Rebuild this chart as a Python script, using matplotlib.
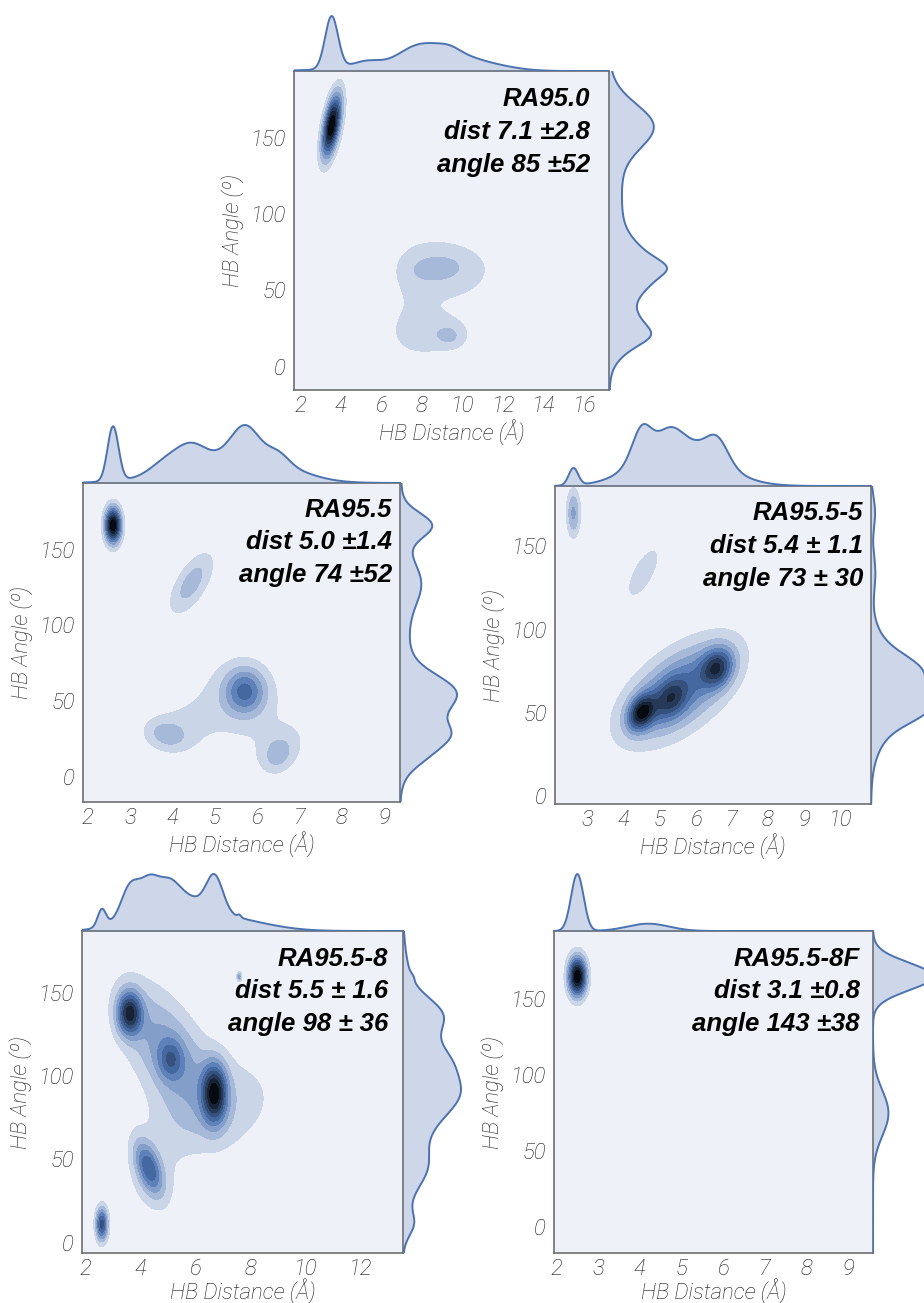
import colorsys
import numpy as np
import matplotlib
matplotlib.use("Agg")
import matplotlib.pyplot as plt
from matplotlib.colors import LinearSegmentedColormap, to_rgb

# ---------------- data ----------------
# each density component: (dist centre, angle centre, dist sd, angle sd, correlation, weight)
ra95_0_components = [
    (3.55, 158, 0.32, 14, 0.55, 0.12),
    (9.0, 63, 1.6, 14, 0.0, 0.115),
    (8.4, 22, 1.4, 11, 0.0, 0.075),
    (8.7, 65, 0.8, 5, 0.1, 0.012),
    (9.4, 20, 0.45, 5, 0.0, 0.008),
    (7.5, 42, 0.7, 22, 0.0, 0.025),
    (6.0, 110, 2.5, 35, 0.0, 0.05),
    (8.5, 90, 1.5, 45, 0.0, 0.05),
    (5.2, 150, 0.7, 25, 0.0, 0.03),
    (11.5, 60, 1.2, 30, 0.0, 0.03),
]
ra95_5_components = [
    (2.6, 166, 0.13, 8, 0.0, 0.07),
    (5.72, 57, 0.33, 10.5, 0.0, 0.10),
    (4.45, 128, 0.33, 13, 0.65, 0.05),
    (3.85, 28, 0.35, 7, -0.2, 0.03),
    (6.5, 15, 0.25, 8, 0.2, 0.025),
    (4.2, 32, 0.6, 13, 0.1, 0.05),
    (6.6, 22, 0.7, 15, 0.3, 0.06),
    (5.5, 50, 0.8, 18, 0.0, 0.12),
    (5.0, 115, 1.3, 40, 0.0, 0.12),
]
ra95_5_5_components = [
    (4.5, 50, 0.25, 7, 0.3, 0.08),
    (5.3, 58, 0.3, 8, 0.3, 0.05),
    (6.6, 77, 0.3, 8, 0.2, 0.09),
    (5.5, 64, 1.0, 19, 0.6, 0.4),
    (5.6, 62, 1.1, 22, 0.5, 0.25),
    (2.62, 170, 0.13, 10, 0.0, 0.03),
    (4.55, 134, 0.35, 12, 0.7, 0.038),
]
ra95_5_8_components = [
    (6.7, 90, 0.3, 12, 0.0, 0.10),
    (3.6, 138, 0.3, 9, 0.0, 0.07),
    (5.1, 110, 0.3, 8, 0.0, 0.025),
    (5.0, 115, 1.2, 28, -0.6, 0.35),
    (7.5, 88, 1.3, 20, 0.0, 0.12),
    (5.5, 70, 1.2, 15, 0.0, 0.06),
    (4.3, 45, 0.35, 11, -0.5, 0.06),
    (4.5, 38, 0.8, 18, 0.0, 0.06),
    (2.6, 11, 0.15, 7, 0.0, 0.025),
    (7.6, 160, 0.06, 2, 0.0, 0.0015),
]
ra95_5_8f_components = [
    (2.5, 165, 0.15, 9, 0.0, 0.7),
    (4.2, 75, 0.5, 15, 0.0, 0.3),
]

panel_names = ["RA95.0", "RA95.5", "RA95.5-5", "RA95.5-8", "RA95.5-8F"]
dist_stats = ["dist 7.1 \u00b12.8", "dist 5.0 \u00b11.4", "dist 5.4 \u00b1 1.1",
              "dist 5.5 \u00b1 1.6", "dist 3.1 \u00b10.8"]
angle_stats = ["angle 85 \u00b152", "angle 74 \u00b152", "angle 73 \u00b1 30",
               "angle 98 \u00b1 36", "angle 143 \u00b138"]
dist_ticks = [[2, 4, 6, 8, 10, 12, 14, 16], [2, 3, 4, 5, 6, 7, 8, 9],
              [3, 4, 5, 6, 7, 8, 9, 10], [2, 4, 6, 8, 10, 12], [2, 3, 4, 5, 6, 7, 8, 9]]
angle_ticks = [0, 50, 100, 150]
dist_limits = [(1.7, 17.2), (1.89, 9.38), (2.11, 10.85), (1.88, 13.55), (1.94, 9.6)]
angle_limits = [(-15.3, 193.7), (-16.2, 193.8), (-4.8, 186.2), (-6.3, 187.5), (-17.2, 195)]
all_components = [ra95_0_components, ra95_5_components, ra95_5_5_components,
                  ra95_5_8_components, ra95_5_8f_components]

# ---------------- layout (pixels) ----------------
W, H = 924, 1303
boxes = [(294, 71, 609, 390), (83, 483, 400, 802), (555, 486, 871, 804),
         (82, 931, 403, 1253), (554, 931, 873, 1253)]
text_inset = [19, 8, 8, 15, 13]
line_baselines = [(35, 68, 101), (34, 66, 99), (34, 67, 100), (35, 67, 100), (35, 67, 100)]
xlabel_offset = [42, 42, 42, 38, 38]
top_peak_px = [55, 58, 62, 57, 57]
right_peak_px = [58, 57, 60, 58, 60]
MARG = 66

BLUE = "#4c72b0"
h, l, s = colorsys.rgb_to_hls(*to_rgb(BLUE))
pal = [colorsys.hls_to_rgb(h, li, s) for li in np.linspace(1, 0, 12)]
cmap = LinearSegmentedColormap.from_list("blend", pal)
NB = 10
band_colors = [cmap((k + 0.5) / NB) for k in range(NB)]

TICK_FONT = dict(family=["Roboto", "DejaVu Sans"], style="italic", weight="light", size=16)
LABEL_FONT = dict(family=["Roboto", "DejaVu Sans"], style="italic", weight="light", size=16)
ANN_FONT = dict(family=["Liberation Sans", "DejaVu Sans"], style="italic", weight="bold", size=18.5)
TXT = "#1a1a1a"


def dens2d(X, Y, comps):
    Z = np.zeros_like(X)
    for cx, cy, sx, sy, r, w in comps:
        dx = (X - cx) / sx
        dy = (Y - cy) / sy
        q = (dx * dx - 2 * r * dx * dy + dy * dy) / (1 - r * r)
        Z += w / (2 * np.pi * sx * sy * np.sqrt(1 - r * r)) * np.exp(-0.5 * q)
    return Z


def dens1d(v, comps, idx):
    out = np.zeros_like(v)
    for c in comps:
        m, sd, w = c[idx], c[idx + 2], c[5]
        out += w / (np.sqrt(2 * np.pi) * sd) * np.exp(-0.5 * ((v - m) / sd) ** 2)
    return out


def px_axes(fig, left, top, right, bottom):
    return fig.add_axes([left / W, 1 - bottom / H, (right - left) / W, (bottom - top) / H])


fig = plt.figure(figsize=(W / 100, H / 100), dpi=100)
fig.patch.set_facecolor("white")

for i in range(5):
    L, T, R, B = boxes[i]
    bw, bh = R - L, B - T
    comps = all_components[i]
    xl, yl = dist_limits[i], angle_limits[i]
    ax = px_axes(fig, L, T, R, B)
    xs = np.linspace(xl[0], xl[1], 400)
    ys = np.linspace(yl[0], yl[1], 400)
    X, Y = np.meshgrid(xs, ys)
    Z = dens2d(X, Y, comps)
    levels = np.linspace(0, Z.max() * 1.0001, NB + 1)
    ax.contourf(X, Y, Z, levels=levels, colors=band_colors)
    ax.set_facecolor(band_colors[0])
    ax.set_xlim(xl)
    ax.set_ylim(yl)
    ax.set_xticks(dist_ticks[i])
    ax.set_yticks(angle_ticks)
    ax.tick_params(axis="x", length=0, pad=4)
    ax.tick_params(axis="y", length=0, pad=6)
    for lab in ax.get_xticklabels() + ax.get_yticklabels():
        lab.set(**TICK_FONT, color=TXT)
    for sp in ax.spines.values():
        sp.set_color("#6e6e6e")
        sp.set_linewidth(1.2)
    ax.set_xlabel("HB Distance (\u00c5)", color=TXT, **LABEL_FONT)
    ax.set_ylabel("HB Angle (\u00ba)", color=TXT, **LABEL_FONT)
    ax.xaxis.set_label_coords(0.5, -xlabel_offset[i] / bh)
    ax.xaxis.label.set_va("center")
    ax.yaxis.set_label_coords(-61 / bw, 0.5)
    ax.yaxis.label.set_va("center")
    lines = [panel_names[i], dist_stats[i], angle_stats[i]]
    for txt, bl in zip(lines, line_baselines[i]):
        ax.text(1 - text_inset[i] / bw, 1 - bl / bh, txt, transform=ax.transAxes,
                ha="right", va="baseline", color="black", **ANN_FONT)

    # top marginal
    axt = px_axes(fig, L, T - MARG, R, T)
    mx = dens1d(xs, comps, 0)
    axt.fill_between(xs, 0, mx, color=BLUE, alpha=0.28, lw=0)
    axt.plot(xs, mx, color=BLUE, lw=1.4)
    axt.set_xlim(xl)
    axt.set_ylim(0, mx.max() * MARG / top_peak_px[i])
    axt.axis("off")

    # right marginal
    axr = px_axes(fig, R, T, R + MARG, B)
    my = dens1d(ys, comps, 1)
    axr.fill_betweenx(ys, 0, my, color=BLUE, alpha=0.28, lw=0)
    axr.plot(my, ys, color=BLUE, lw=1.4)
    axr.set_ylim(yl)
    axr.set_xlim(0, my.max() * MARG / right_peak_px[i])
    axr.axis("off")

fig.savefig("out.png", dpi=100)
